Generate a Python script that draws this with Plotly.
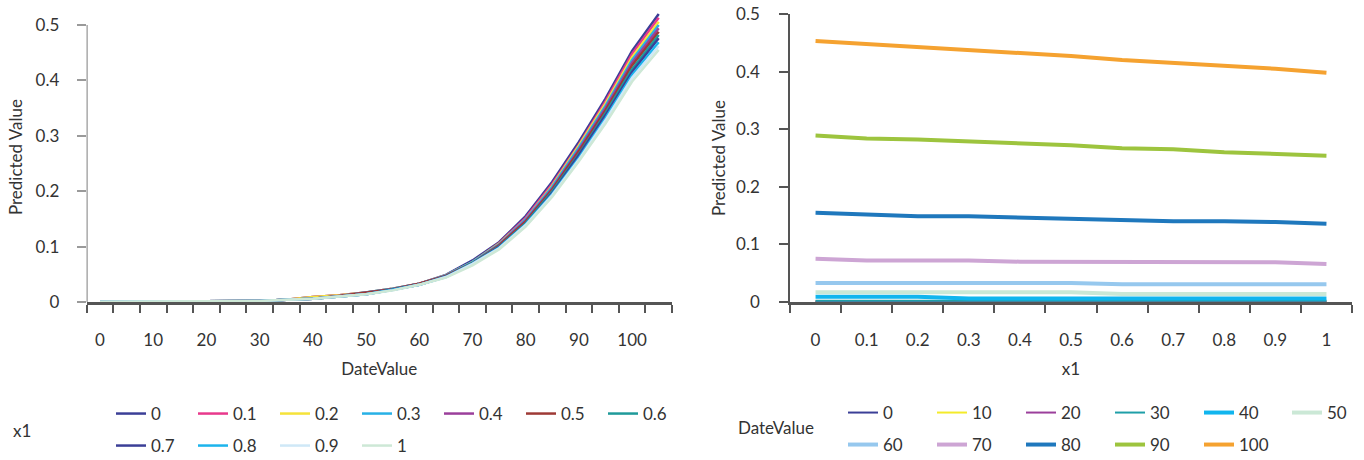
import plotly.graph_objects as go

# ---------------- data ----------------
date_values = [0, 5, 10, 15, 20, 25, 30, 35, 40, 45, 50, 55, 60, 65, 70, 75, 80, 85, 90, 95, 100, 105]
date_tick_labels = [0, 10, 20, 30, 40, 50, 60, 70, 80, 90, 100]
x1_values = [0, 0.1, 0.2, 0.3, 0.4, 0.5, 0.6, 0.7, 0.8, 0.9, 1]
x1_labels = ["0", "0.1", "0.2", "0.3", "0.4", "0.5", "0.6", "0.7", "0.8", "0.9", "1"]

# left chart: one series per x1 value, over DateValue
left_x1_00 = [0.0003, 0.0004, 0.0005, 0.0007, 0.001, 0.0015, 0.002, 0.004, 0.009, 0.012, 0.017, 0.024, 0.033, 0.049, 0.075, 0.108, 0.155, 0.217, 0.289, 0.367, 0.453, 0.520]
left_x1_01 = [0.0003, 0.0004, 0.0005, 0.0007, 0.001, 0.0015, 0.002, 0.004, 0.009, 0.012, 0.017, 0.024, 0.033, 0.048, 0.072, 0.106, 0.152, 0.213, 0.284, 0.362, 0.448, 0.513]
left_x1_02 = [0.0003, 0.0004, 0.0005, 0.0007, 0.001, 0.0015, 0.002, 0.004, 0.009, 0.012, 0.017, 0.024, 0.033, 0.048, 0.072, 0.105, 0.149, 0.210, 0.282, 0.358, 0.442, 0.506]
left_x1_03 = [0.0003, 0.0004, 0.0005, 0.0007, 0.001, 0.0015, 0.002, 0.004, 0.006, 0.011, 0.017, 0.024, 0.033, 0.048, 0.072, 0.104, 0.149, 0.208, 0.279, 0.354, 0.437, 0.500]
left_x1_04 = [0.0003, 0.0004, 0.0005, 0.0007, 0.001, 0.0015, 0.002, 0.004, 0.006, 0.011, 0.017, 0.023, 0.033, 0.047, 0.070, 0.103, 0.147, 0.205, 0.275, 0.350, 0.432, 0.494]
left_x1_05 = [0.0003, 0.0004, 0.0005, 0.0007, 0.001, 0.0015, 0.002, 0.004, 0.006, 0.011, 0.017, 0.023, 0.033, 0.047, 0.070, 0.102, 0.145, 0.203, 0.272, 0.346, 0.427, 0.488]
left_x1_06 = [0.0003, 0.0004, 0.0005, 0.0007, 0.001, 0.0015, 0.002, 0.004, 0.006, 0.010, 0.014, 0.022, 0.031, 0.046, 0.070, 0.100, 0.142, 0.200, 0.267, 0.341, 0.420, 0.482]
left_x1_07 = [0.0003, 0.0004, 0.0005, 0.0007, 0.001, 0.0015, 0.002, 0.004, 0.006, 0.010, 0.014, 0.022, 0.031, 0.046, 0.069, 0.099, 0.140, 0.197, 0.265, 0.337, 0.415, 0.476]
left_x1_08 = [0.0003, 0.0004, 0.0005, 0.0007, 0.001, 0.0015, 0.002, 0.004, 0.006, 0.010, 0.014, 0.022, 0.031, 0.045, 0.069, 0.098, 0.140, 0.195, 0.260, 0.332, 0.410, 0.469]
left_x1_09 = [0.0003, 0.0004, 0.0005, 0.0007, 0.001, 0.0015, 0.002, 0.004, 0.006, 0.010, 0.014, 0.021, 0.031, 0.045, 0.069, 0.097, 0.139, 0.193, 0.257, 0.328, 0.405, 0.462]
left_x1_10 = [0.0003, 0.0004, 0.0005, 0.0007, 0.001, 0.0015, 0.002, 0.004, 0.006, 0.010, 0.014, 0.021, 0.031, 0.044, 0.066, 0.095, 0.136, 0.190, 0.254, 0.322, 0.398, 0.455]

# right chart: one series per DateValue, over x1
right_dates = ["0", "10", "20", "30", "40", "50", "60", "70", "80", "90", "100"]
right_dv_000 = [0.0003, 0.0003, 0.0003, 0.0003, 0.0003, 0.0003, 0.0003, 0.0003, 0.0003, 0.0003, 0.0003]
right_dv_010 = [0.0005, 0.0005, 0.0005, 0.0005, 0.0005, 0.0005, 0.0005, 0.0005, 0.0005, 0.0005, 0.0005]
right_dv_020 = [0.001, 0.001, 0.001, 0.001, 0.001, 0.001, 0.001, 0.001, 0.001, 0.001, 0.001]
right_dv_030 = [0.002, 0.002, 0.002, 0.002, 0.002, 0.002, 0.002, 0.002, 0.002, 0.002, 0.002]
right_dv_040 = [0.009, 0.009, 0.009, 0.006, 0.006, 0.006, 0.006, 0.006, 0.006, 0.006, 0.006]
right_dv_050 = [0.017, 0.017, 0.017, 0.017, 0.017, 0.017, 0.014, 0.014, 0.014, 0.014, 0.014]
right_dv_060 = [0.033, 0.033, 0.033, 0.033, 0.033, 0.033, 0.031, 0.031, 0.031, 0.031, 0.031]
right_dv_070 = [0.075, 0.072, 0.072, 0.072, 0.070, 0.070, 0.070, 0.069, 0.069, 0.069, 0.066]
right_dv_080 = [0.155, 0.152, 0.149, 0.149, 0.147, 0.145, 0.142, 0.140, 0.140, 0.139, 0.136]
right_dv_090 = [0.289, 0.284, 0.282, 0.279, 0.275, 0.272, 0.267, 0.265, 0.260, 0.257, 0.254]
right_dv_100 = [0.453, 0.448, 0.442, 0.437, 0.432, 0.427, 0.420, 0.415, 0.410, 0.405, 0.398]

left_series = [left_x1_00, left_x1_01, left_x1_02, left_x1_03, left_x1_04, left_x1_05,
               left_x1_06, left_x1_07, left_x1_08, left_x1_09, left_x1_10]
right_series = [right_dv_000, right_dv_010, right_dv_020, right_dv_030, right_dv_040, right_dv_050,
                right_dv_060, right_dv_070, right_dv_080, right_dv_090, right_dv_100]

# ---------------- styles ----------------
left_colors = ["#3b3f97", "#e8398c", "#f5e33a", "#27b1e6", "#9b3f9b", "#9e3a36",
               "#1f9a9a", "#3b3f97", "#1cb4ec", "#cfe8f7", "#cde8d6"]
right_colors = ["#3b3f97", "#f4eb2a", "#9b3f9b", "#1f9fa8", "#11b5ee", "#cbe8d6",
                "#96c8ee", "#cda5d4", "#1f78bd", "#9dc43e", "#f5a230"]
right_widths = [2, 2, 2, 2, 4, 4, 4, 4, 4, 4, 4]
right_legend_of = ["legend3"] * 5 + ["legend5"] + ["legend4"] * 5

FONT = "Lato, 'Noto Sans', sans-serif"
FS = 17
TXT = "#333333"
AX = "#555555"

W, H = 1364, 460
L_X0, L_X1 = 86.7, 672.0
R_X0, R_X1 = 790.0, 1352.0
Y_BOT = 302.0
L_TOP, R_TOP = 12.0, 14.0

fig = go.Figure()

for i, vals in enumerate(left_series):
    fig.add_trace(go.Scatter(
        x=date_values, y=vals, mode="lines", name=x1_labels[i],
        line=dict(color=left_colors[i], width=2.5),
        xaxis="x", yaxis="y",
        legend="legend" if i < 7 else "legend2",
    ))

for i, vals in enumerate(right_series):
    fig.add_trace(go.Scatter(
        x=x1_values, y=vals, mode="lines", name=right_dates[i],
        line=dict(color=right_colors[i], width=right_widths[i]),
        xaxis="x2", yaxis="y2",
        legend=right_legend_of[i],
    ))

def px(x):
    return x / W

def py(y):
    return 1 - y / H

left_boundaries = [d - 2.5 for d in date_values] + [date_values[-1] + 2.5]
right_boundaries = [v - 0.05 for v in x1_values] + [x1_values[-1] + 0.05]

# left y top so that 0.5 maps to pixel 25
l_range_top = 0.5 + (25 - L_TOP) * 0.5 / (Y_BOT - 25)

legend_common = dict(orientation="h", xanchor="left", yanchor="middle",
                     font=dict(family=FONT, size=FS, color=TXT),
                     bgcolor="rgba(0,0,0,0)", borderwidth=0,
                     entrywidthmode="pixels", itemclick=False)

fig.update_layout(
    width=W, height=H,
    margin=dict(l=0, r=0, t=0, b=0, autoexpand=False),
    paper_bgcolor="white", plot_bgcolor="white",
    font=dict(family=FONT, size=FS, color=TXT),
    showlegend=True,
    xaxis=dict(
        domain=[px(L_X0), px(L_X1)], anchor="y", automargin=False,
        range=[-2.5, 107.5],
        tickmode="array", tickvals=date_tick_labels, ticktext=[str(v) for v in date_tick_labels],
        ticks="", ticklabelstandoff=21,
        minor=dict(ticks="outside", tickvals=left_boundaries, ticklen=8, tickwidth=1.5, tickcolor=AX, showgrid=False),
        showline=True, linecolor=AX, linewidth=2.5,
        showgrid=False, zeroline=False,
        tickfont=dict(size=FS, color=TXT),
        title=dict(text="DateValue", font=dict(size=FS, color=TXT), standoff=14),
    ),
    yaxis=dict(
        domain=[py(Y_BOT), py(L_TOP)], anchor="x", automargin=False,
        range=[0, l_range_top],
        tickmode="array", tickvals=[0, 0.1, 0.2, 0.3, 0.4, 0.5],
        ticktext=["0", "0.1", "0.2", "0.3", "0.4", "0.5"],
        ticks="outside", ticklen=9, tickcolor="#9a9a9a", tickwidth=1.5,
        ticklabelstandoff=14,
        showline=False, showgrid=False, zeroline=False,
        tickfont=dict(size=FS, color=TXT),
        title=dict(text="Predicted Value", font=dict(size=FS, color=TXT), standoff=8),
    ),
    xaxis2=dict(
        domain=[px(R_X0), px(R_X1)], anchor="y2", automargin=False,
        range=[-0.05, 1.05],
        tickmode="array", tickvals=x1_values, ticktext=x1_labels,
        ticks="", ticklabelstandoff=21,
        minor=dict(ticks="outside", tickvals=right_boundaries, ticklen=8, tickwidth=1.5, tickcolor=AX, showgrid=False),
        showline=True, linecolor=AX, linewidth=2.5,
        showgrid=False, zeroline=False,
        tickfont=dict(size=FS, color=TXT),
        title=dict(text="x1", font=dict(size=FS, color=TXT), standoff=14),
    ),
    yaxis2=dict(
        domain=[py(Y_BOT), py(R_TOP)], anchor="x2", automargin=False,
        range=[0, 0.5],
        tickmode="array", tickvals=[0, 0.1, 0.2, 0.3, 0.4, 0.5],
        ticktext=["0", "0.1", "0.2", "0.3", "0.4", "0.5"],
        ticks="outside", ticklen=9, tickcolor=AX, tickwidth=1.5,
        ticklabelstandoff=16,
        showline=True, linecolor=AX, linewidth=1.5,
        showgrid=False, zeroline=False,
        tickfont=dict(size=FS, color=TXT),
        title=dict(text="Predicted Value", font=dict(size=FS, color=TXT), standoff=6),
    ),
    legend=dict(legend_common, x=px(111), y=py(414), entrywidth=37),
    legend2=dict(legend_common, x=px(111), y=py(446), entrywidth=37),
    legend3=dict(legend_common, x=px(843), y=py(413), entrywidth=44),
    legend4=dict(legend_common, x=px(843), y=py(445), entrywidth=44),
    legend5=dict(legend_common, x=px(1287), y=py(413)),
    shapes=[dict(type="line", xref="x", yref="y", x0=-2.5, x1=-2.5, y0=0, y1=0.5,
                 line=dict(color=AX, width=1.5), layer="above")],
    annotations=[
        dict(text="x1", x=px(22), y=py(430), xref="paper", yref="paper", showarrow=False,
             font=dict(size=FS, color=TXT), xanchor="center", yanchor="middle"),
        dict(text="DateValue", x=px(776), y=py(427), xref="paper", yref="paper", showarrow=False,
             font=dict(size=FS, color=TXT), xanchor="center", yanchor="middle"),
    ],
)

fig.write_html("out.html", config={"displayModeBar": False},
               post_script="document.body.style.margin='0';document.body.style.padding='0';")
